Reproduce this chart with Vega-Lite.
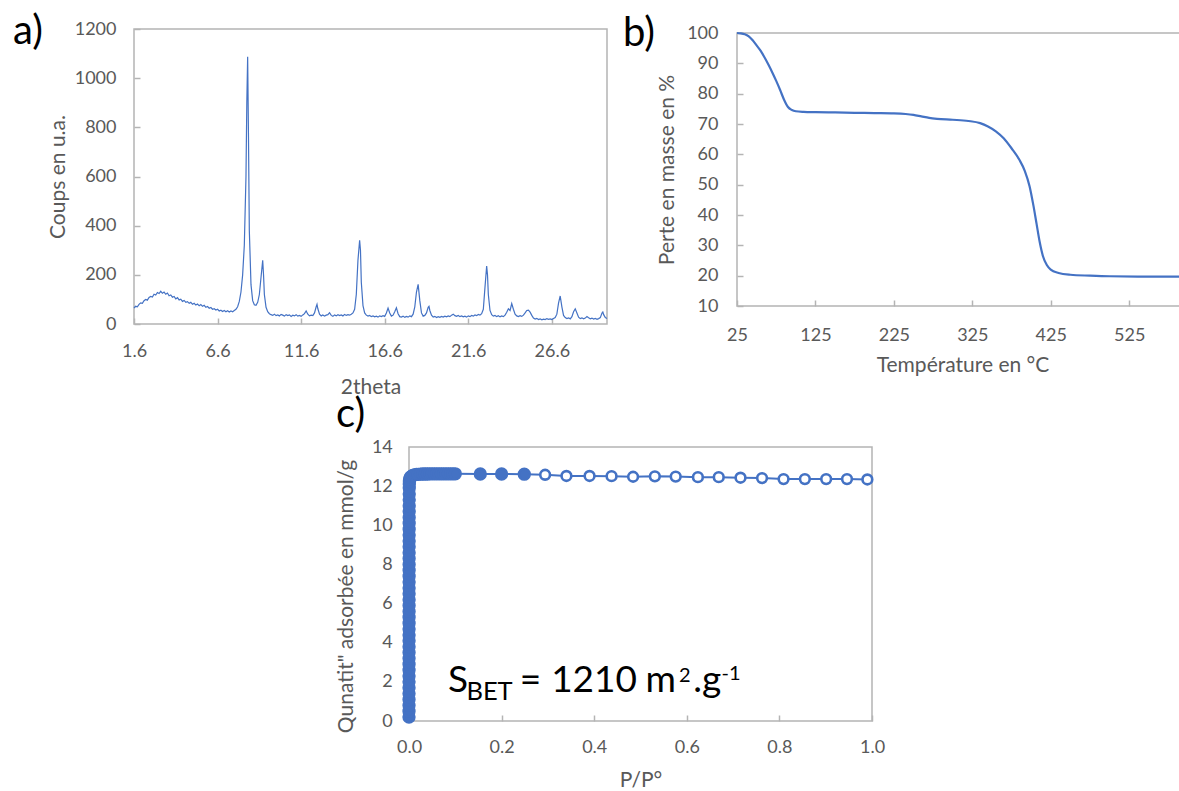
{
  "$schema": "https://vega.github.io/schema/vega-lite/v6.json",
  "background": "white",
  "padding": {"left": 12, "top": 11, "right": 0, "bottom": 0},
  "bounds": "flush",
  "spacing": 418,
  "config": {
    "font": "Lato",
    "view": {"stroke": "#b4b4b4", "strokeWidth": 1.5},
    "axis": {"grid": false, "domain": false, "tickColor": "#b4b4b4", "tickWidth": 1.5, "tickSize": -6, "labelFont": "Lato", "labelFontSize": 18, "labelColor": "#595959", "titleFont": "Lato", "titleFontSize": 21, "titleColor": "#595959", "titleFontWeight": "normal", "labelFlush": false, "labelOverlap": false},
    "title": {"font": "Lato", "fontSize": 40, "fontWeight": "normal", "color": "#000000", "anchor": "start", "baseline": "alphabetic", "frame": "group"}
  },
  "datasets": {
    "xrd": [
      {"t":1.6,"c":65},{"t":1.7,"c":72},{"t":1.8,"c":70},{"t":1.9,"c":80},{"t":2.0,"c":86},{"t":2.1,"c":84},{"t":2.2,"c":95},{"t":2.3,"c":100},{"t":2.4,"c":97},{"t":2.5,"c":108},
      {"t":2.6,"c":112},{"t":2.7,"c":110},{"t":2.8,"c":121},{"t":2.9,"c":118},{"t":3.0,"c":128},{"t":3.1,"c":124},{"t":3.2,"c":133},{"t":3.3,"c":125},{"t":3.4,"c":130},{"t":3.5,"c":121},
      {"t":3.6,"c":126},{"t":3.7,"c":115},{"t":3.8,"c":118},{"t":3.9,"c":109},{"t":4.0,"c":112},{"t":4.1,"c":102},{"t":4.2,"c":107},{"t":4.3,"c":98},{"t":4.4,"c":101},{"t":4.5,"c":92},
      {"t":4.6,"c":96},{"t":4.7,"c":88},{"t":4.8,"c":91},{"t":4.9,"c":84},{"t":5.0,"c":88},{"t":5.1,"c":80},{"t":5.2,"c":84},{"t":5.3,"c":77},{"t":5.4,"c":81},{"t":5.5,"c":74},
      {"t":5.6,"c":79},{"t":5.7,"c":72},{"t":5.8,"c":76},{"t":5.9,"c":68},{"t":6.0,"c":71},{"t":6.1,"c":64},{"t":6.2,"c":67},{"t":6.3,"c":60},{"t":6.4,"c":62},{"t":6.5,"c":57},
      {"t":6.6,"c":60},{"t":6.7,"c":53},{"t":6.8,"c":56},{"t":6.9,"c":51},{"t":7.0,"c":55},{"t":7.1,"c":50},{"t":7.2,"c":54},{"t":7.3,"c":49},{"t":7.4,"c":53},{"t":7.5,"c":50},
      {"t":7.6,"c":55},{"t":7.7,"c":60},{"t":7.8,"c":70},{"t":7.9,"c":92},{"t":8.0,"c":130},{"t":8.1,"c":200},{"t":8.2,"c":320},{"t":8.3,"c":600},{"t":8.35,"c":900},{"t":8.4,"c":1087},
      {"t":8.45,"c":760},{"t":8.5,"c":380},{"t":8.6,"c":160},{"t":8.7,"c":95},{"t":8.8,"c":78},{"t":8.9,"c":76},{"t":9.0,"c":88},{"t":9.1,"c":120},{"t":9.2,"c":190},{"t":9.3,"c":259},
      {"t":9.35,"c":200},{"t":9.4,"c":120},{"t":9.5,"c":68},{"t":9.6,"c":50},{"t":9.7,"c":42},{"t":9.8,"c":38},{"t":9.9,"c":35},{"t":10.0,"c":40},{"t":10.1,"c":34},{"t":10.2,"c":37},
      {"t":10.3,"c":33},{"t":10.4,"c":39},{"t":10.5,"c":36},{"t":10.6,"c":32},{"t":10.7,"c":38},{"t":10.8,"c":34},{"t":10.9,"c":37},{"t":11.0,"c":31},{"t":11.1,"c":36},{"t":11.2,"c":33},
      {"t":11.3,"c":38},{"t":11.4,"c":32},{"t":11.5,"c":35},{"t":11.6,"c":31},{"t":11.7,"c":37},{"t":11.8,"c":42},{"t":11.9,"c":53},{"t":12.0,"c":40},{"t":12.1,"c":33},{"t":12.2,"c":36},
      {"t":12.3,"c":34},{"t":12.4,"c":45},{"t":12.5,"c":70},{"t":12.55,"c":80},{"t":12.6,"c":62},{"t":12.7,"c":40},{"t":12.8,"c":33},{"t":12.9,"c":37},{"t":13.0,"c":32},{"t":13.1,"c":36},
      {"t":13.2,"c":38},{"t":13.3,"c":46},{"t":13.4,"c":35},{"t":13.5,"c":31},{"t":13.6,"c":37},{"t":13.7,"c":33},{"t":13.8,"c":38},{"t":13.9,"c":34},{"t":14.0,"c":37},{"t":14.1,"c":33},
      {"t":14.2,"c":39},{"t":14.3,"c":35},{"t":14.4,"c":38},{"t":14.5,"c":36},{"t":14.6,"c":40},{"t":14.7,"c":45},{"t":14.8,"c":60},{"t":14.9,"c":120},{"t":15.0,"c":260},{"t":15.1,"c":340},
      {"t":15.15,"c":300},{"t":15.2,"c":170},{"t":15.3,"c":75},{"t":15.4,"c":45},{"t":15.5,"c":36},{"t":15.6,"c":32},{"t":15.7,"c":35},{"t":15.8,"c":30},{"t":15.9,"c":33},{"t":16.0,"c":29},
      {"t":16.1,"c":32},{"t":16.2,"c":28},{"t":16.3,"c":33},{"t":16.4,"c":30},{"t":16.5,"c":34},{"t":16.6,"c":31},{"t":16.7,"c":45},{"t":16.8,"c":65},{"t":16.9,"c":45},{"t":17.0,"c":32},
      {"t":17.1,"c":36},{"t":17.2,"c":50},{"t":17.3,"c":66},{"t":17.4,"c":42},{"t":17.5,"c":30},{"t":17.6,"c":28},{"t":17.7,"c":32},{"t":17.8,"c":27},{"t":17.9,"c":31},{"t":18.0,"c":28},
      {"t":18.1,"c":33},{"t":18.2,"c":30},{"t":18.3,"c":40},{"t":18.4,"c":70},{"t":18.5,"c":130},{"t":18.6,"c":161},{"t":18.7,"c":95},{"t":18.8,"c":45},{"t":18.9,"c":32},{"t":19.0,"c":35},
      {"t":19.1,"c":45},{"t":19.2,"c":68},{"t":19.25,"c":72},{"t":19.3,"c":55},{"t":19.4,"c":36},{"t":19.5,"c":28},{"t":19.6,"c":31},{"t":19.7,"c":26},{"t":19.8,"c":30},{"t":19.9,"c":27},
      {"t":20.0,"c":31},{"t":20.1,"c":28},{"t":20.2,"c":32},{"t":20.3,"c":29},{"t":20.4,"c":33},{"t":20.5,"c":30},{"t":20.6,"c":36},{"t":20.7,"c":40},{"t":20.8,"c":34},{"t":20.9,"c":31},
      {"t":21.0,"c":35},{"t":21.1,"c":30},{"t":21.2,"c":33},{"t":21.3,"c":29},{"t":21.4,"c":32},{"t":21.5,"c":28},{"t":21.6,"c":33},{"t":21.7,"c":30},{"t":21.8,"c":35},{"t":21.9,"c":32},
      {"t":22.0,"c":37},{"t":22.1,"c":34},{"t":22.2,"c":39},{"t":22.3,"c":36},{"t":22.4,"c":42},{"t":22.5,"c":60},{"t":22.6,"c":150},{"t":22.7,"c":236},{"t":22.75,"c":200},{"t":22.8,"c":120},
      {"t":22.9,"c":55},{"t":23.0,"c":38},{"t":23.1,"c":32},{"t":23.2,"c":35},{"t":23.3,"c":30},{"t":23.4,"c":34},{"t":23.5,"c":29},{"t":23.6,"c":33},{"t":23.7,"c":30},{"t":23.8,"c":36},
      {"t":23.9,"c":48},{"t":24.0,"c":62},{"t":24.1,"c":55},{"t":24.2,"c":83},{"t":24.3,"c":60},{"t":24.4,"c":40},{"t":24.5,"c":33},{"t":24.6,"c":30},{"t":24.7,"c":34},{"t":24.8,"c":31},
      {"t":24.9,"c":36},{"t":25.0,"c":45},{"t":25.1,"c":55},{"t":25.2,"c":56},{"t":25.3,"c":48},{"t":25.4,"c":35},{"t":25.5,"c":24},{"t":25.6,"c":20},{"t":25.7,"c":23},{"t":25.8,"c":18},
      {"t":25.9,"c":21},{"t":26.0,"c":17},{"t":26.1,"c":20},{"t":26.2,"c":18},{"t":26.3,"c":22},{"t":26.4,"c":19},{"t":26.5,"c":21},{"t":26.6,"c":18},{"t":26.7,"c":22},{"t":26.8,"c":26},
      {"t":26.9,"c":40},{"t":27.0,"c":85},{"t":27.1,"c":114},{"t":27.2,"c":70},{"t":27.3,"c":35},{"t":27.4,"c":26},{"t":27.5,"c":22},{"t":27.6,"c":25},{"t":27.7,"c":21},{"t":27.8,"c":30},
      {"t":27.9,"c":50},{"t":28.0,"c":62},{"t":28.1,"c":45},{"t":28.2,"c":28},{"t":28.3,"c":22},{"t":28.4,"c":25},{"t":28.5,"c":21},{"t":28.6,"c":24},{"t":28.7,"c":30},{"t":28.8,"c":25},
      {"t":28.9,"c":21},{"t":29.0,"c":24},{"t":29.1,"c":20},{"t":29.2,"c":23},{"t":29.3,"c":19},{"t":29.4,"c":22},{"t":29.5,"c":26},{"t":29.6,"c":45},{"t":29.65,"c":49},{"t":29.7,"c":38},
      {"t":29.8,"c":26},{"t":29.9,"c":22}
    ],
    "tga": [
      {"T":25,"m":100},{"T":30,"m":99.9},{"T":35,"m":99.6},{"T":40,"m":98.9},{"T":45,"m":97.6},{"T":50,"m":95.9},{"T":55,"m":94.2},{"T":60,"m":92.0},{"T":65,"m":89.6},{"T":70,"m":87.0},
      {"T":75,"m":84.2},{"T":80,"m":81.2},{"T":85,"m":78.0},{"T":90,"m":75.6},{"T":95,"m":74.6},{"T":100,"m":74.2},{"T":110,"m":74.0},{"T":125,"m":73.9},{"T":150,"m":73.8},{"T":175,"m":73.7},
      {"T":200,"m":73.6},{"T":225,"m":73.5},{"T":240,"m":73.3},{"T":250,"m":73.0},{"T":260,"m":72.5},{"T":270,"m":72.0},{"T":280,"m":71.7},{"T":300,"m":71.4},{"T":320,"m":71.0},{"T":335,"m":70.3},
      {"T":345,"m":69.2},{"T":355,"m":67.6},{"T":365,"m":65.3},{"T":375,"m":62.0},{"T":385,"m":58.2},{"T":392,"m":54.5},{"T":398,"m":49.5},{"T":403,"m":43.0},{"T":407,"m":37.0},{"T":411,"m":31.0},
      {"T":415,"m":26.5},{"T":420,"m":23.5},{"T":425,"m":22.0},{"T":435,"m":20.9},{"T":450,"m":20.3},{"T":475,"m":20.0},{"T":500,"m":19.8},{"T":550,"m":19.7},{"T":600,"m":19.7}
    ],
    "iso": [
      {"p":0.00001,"q":0.2,"b":"adsorption"},{"p":0.00002,"q":0.5,"b":"adsorption"},{"p":0.00003,"q":0.8,"b":"adsorption"},{"p":0.00004,"q":1.1,"b":"adsorption"},{"p":0.00005,"q":1.4,"b":"adsorption"},
      {"p":0.00006,"q":1.7,"b":"adsorption"},{"p":0.00007,"q":2.0,"b":"adsorption"},{"p":0.00008,"q":2.3,"b":"adsorption"},{"p":0.00009,"q":2.6,"b":"adsorption"},{"p":0.0001,"q":2.9,"b":"adsorption"},
      {"p":0.00011,"q":3.2,"b":"adsorption"},{"p":0.00012,"q":3.5,"b":"adsorption"},{"p":0.00013,"q":3.8,"b":"adsorption"},{"p":0.00014,"q":4.1,"b":"adsorption"},{"p":0.00015,"q":4.4,"b":"adsorption"},
      {"p":0.00016,"q":4.7,"b":"adsorption"},{"p":0.00017,"q":5.0,"b":"adsorption"},{"p":0.00018,"q":5.3,"b":"adsorption"},{"p":0.00019,"q":5.6,"b":"adsorption"},{"p":0.0002,"q":5.9,"b":"adsorption"},
      {"p":0.00021,"q":6.2,"b":"adsorption"},{"p":0.00022,"q":6.5,"b":"adsorption"},{"p":0.00023,"q":6.8,"b":"adsorption"},{"p":0.00024,"q":7.1,"b":"adsorption"},{"p":0.00025,"q":7.4,"b":"adsorption"},
      {"p":0.00026,"q":7.7,"b":"adsorption"},{"p":0.00027,"q":8.0,"b":"adsorption"},{"p":0.00028,"q":8.3,"b":"adsorption"},{"p":0.00029,"q":8.6,"b":"adsorption"},{"p":0.0003,"q":8.9,"b":"adsorption"},
      {"p":0.00032,"q":9.2,"b":"adsorption"},{"p":0.00034,"q":9.5,"b":"adsorption"},{"p":0.00036,"q":9.8,"b":"adsorption"},{"p":0.00038,"q":10.1,"b":"adsorption"},{"p":0.0004,"q":10.4,"b":"adsorption"},
      {"p":0.00043,"q":10.7,"b":"adsorption"},{"p":0.00046,"q":11.0,"b":"adsorption"},{"p":0.0005,"q":11.3,"b":"adsorption"},{"p":0.00055,"q":11.6,"b":"adsorption"},{"p":0.0006,"q":11.9,"b":"adsorption"},
      {"p":0.0007,"q":12.1,"b":"adsorption"},{"p":0.0009,"q":12.25,"b":"adsorption"},{"p":0.0015,"q":12.35,"b":"adsorption"},{"p":0.003,"q":12.45,"b":"adsorption"},{"p":0.005,"q":12.5,"b":"adsorption"},
      {"p":0.008,"q":12.55,"b":"adsorption"},{"p":0.012,"q":12.58,"b":"adsorption"},{"p":0.016,"q":12.6,"b":"adsorption"},{"p":0.02,"q":12.6,"b":"adsorption"},{"p":0.025,"q":12.61,"b":"adsorption"},
      {"p":0.03,"q":12.62,"b":"adsorption"},{"p":0.035,"q":12.62,"b":"adsorption"},{"p":0.04,"q":12.62,"b":"adsorption"},{"p":0.045,"q":12.63,"b":"adsorption"},{"p":0.05,"q":12.63,"b":"adsorption"},
      {"p":0.055,"q":12.63,"b":"adsorption"},{"p":0.06,"q":12.63,"b":"adsorption"},{"p":0.065,"q":12.63,"b":"adsorption"},{"p":0.07,"q":12.63,"b":"adsorption"},{"p":0.075,"q":12.63,"b":"adsorption"},
      {"p":0.08,"q":12.63,"b":"adsorption"},{"p":0.085,"q":12.63,"b":"adsorption"},{"p":0.09,"q":12.63,"b":"adsorption"},{"p":0.095,"q":12.63,"b":"adsorption"},{"p":0.1,"q":12.63,"b":"adsorption"},
      {"p":0.154,"q":12.62,"b":"adsorption"},{"p":0.2,"q":12.62,"b":"adsorption"},{"p":0.249,"q":12.61,"b":"adsorption"},
      {"p":0.294,"q":12.58,"b":"désorption"},{"p":0.34,"q":12.52,"b":"désorption"},{"p":0.39,"q":12.52,"b":"désorption"},{"p":0.4375,"q":12.51,"b":"désorption"},{"p":0.484,"q":12.48,"b":"désorption"},
      {"p":0.531,"q":12.5,"b":"désorption"},{"p":0.576,"q":12.49,"b":"désorption"},{"p":0.624,"q":12.46,"b":"désorption"},{"p":0.669,"q":12.46,"b":"désorption"},{"p":0.716,"q":12.43,"b":"désorption"},
      {"p":0.7625,"q":12.41,"b":"désorption"},{"p":0.809,"q":12.36,"b":"désorption"},{"p":0.855,"q":12.36,"b":"désorption"},{"p":0.901,"q":12.36,"b":"désorption"},{"p":0.946,"q":12.36,"b":"désorption"},
      {"p":0.99,"q":12.34,"b":"désorption"}
    ]
  },
  "vconcat": [
    {
      "bounds": "flush",
      "spacing": 130,
      "hconcat": [
        {
          "width": 473,
          "height": 295,
          "title": {"text": "a)", "dx": -121, "dy": 36},
          "data": {"name": "xrd"},
          "mark": {"type": "line", "color": "#4472C4", "strokeWidth": 1.2},
          "encoding": {
            "x": {"field": "t", "type": "quantitative", "scale": {"domain": [1.6, 29.9], "nice": false, "zero": false},
                  "axis": {"values": [1.6, 6.6, 11.6, 16.6, 21.6, 26.6], "format": ".1f", "title": "2theta", "labelPadding": 24, "titlePadding": 16, "labelOverlap": false}},
            "y": {"field": "c", "type": "quantitative", "scale": {"domain": [0, 1200], "nice": false},
                  "axis": {"values": [0, 200, 400, 600, 800, 1000, 1200], "format": "d", "title": "Coups en u.a.", "labelPadding": 24, "titlePadding": 6, "labelOverlap": false}}
          }
        },
        {
          "bounds": "flush",
          "spacing": 3,
          "vconcat": [
            {"width": 451, "height": 1, "view": {"stroke": null}, "data": {"values": []}, "mark": {"type": "point", "opacity": 0}, "encoding": {}},
            {
              "width": 451,
              "height": 273,
              "title": {"text": "b)", "dx": -114, "dy": 34},
              "data": {"name": "tga"},
              "mark": {"type": "line", "color": "#4472C4", "strokeWidth": 2.2, "interpolate": "monotone"},
              "encoding": {
                "x": {"field": "T", "type": "quantitative", "scale": {"domain": [25, 600], "nice": false, "zero": false},
                      "axis": {"values": [25, 125, 225, 325, 425, 525], "title": "Température en °C", "labelPadding": 26, "titlePadding": 10, "labelOverlap": false}},
                "y": {"field": "m", "type": "quantitative", "scale": {"domain": [10, 100], "nice": false, "zero": false},
                      "axis": {"values": [10, 20, 30, 40, 50, 60, 70, 80, 90, 100], "title": "Perte en masse en %", "labelPadding": 25, "titlePadding": 9, "labelOverlap": false}}
              }
            }
          ]
        }
      ]
    },
    {
      "bounds": "flush",
      "spacing": 0,
      "hconcat": [
        {"width": 275, "height": 1, "view": {"stroke": null}, "data": {"values": []}, "mark": {"type": "point", "opacity": 0}, "encoding": {}},
        {
          "width": 463,
          "height": 274,
          "title": {"text": "c)", "dx": -73, "dy": 1},
          "encoding": {
            "x": {"field": "p", "type": "quantitative", "scale": {"domain": [0, 1], "nice": false},
                  "axis": {"values": [0, 0.2, 0.4, 0.6, 0.8, 1.0], "format": ".1f", "title": "P/P°", "labelPadding": 23.5, "titlePadding": 13, "labelOverlap": false}},
            "y": {"field": "q", "type": "quantitative", "scale": {"domain": [0, 14], "nice": false},
                  "axis": {"values": [0, 2, 4, 6, 8, 10, 12, 14], "format": "d", "title": "Qunatit\" adsorbée en mmol/g", "ticks": false, "labelPadding": 16.7, "titlePadding": 15, "titleY": 149, "labelOverlap": false, "labelSeparation": 0}}
          },
          "layer": [
            {
              "data": {"name": "iso"},
              "mark": {"type": "line", "color": "#4472C4", "strokeWidth": 2}
            },
            {
              "data": {"name": "iso"},
              "mark": {"type": "point", "shape": "circle", "opacity": 1, "strokeWidth": 2.6},
              "encoding": {
                "fill": {"field": "b", "type": "nominal", "scale": {"domain": ["adsorption", "désorption"], "range": ["#4472C4", "#ffffff"]}, "legend": null},
                "stroke": {"value": "#4472C4"},
                "size": {"field": "b", "type": "nominal", "scale": {"domain": ["adsorption", "désorption"], "range": [115, 95]}, "legend": null}
              }
            },
            {
              "data": {"values": [{"p": 0.0845, "q": 1.5, "s": "S"}, {"p": 0.239, "q": 1.5, "s": "="}, {"p": 0.307, "q": 1.5, "s": "1210"}, {"p": 0.511, "q": 1.5, "s": "m"}, {"p": 0.614, "q": 1.5, "s": ".g"}]},
              "mark": {"type": "text", "font": "Lato", "fontSize": 37, "color": "#000000", "align": "left", "baseline": "alphabetic"},
              "encoding": {"text": {"field": "s"}}
            },
            {
              "data": {"values": [{"p": 0.124, "q": 1.07, "s": "BET"}]},
              "mark": {"type": "text", "font": "Lato", "fontSize": 25.5, "color": "#000000", "align": "left", "baseline": "alphabetic"},
              "encoding": {"text": {"field": "s"}}
            },
            {
              "data": {"values": [{"p": 0.583, "q": 2.0, "s": "2"}, {"p": 0.675, "q": 2.1, "s": "-1"}]},
              "mark": {"type": "text", "font": "Lato", "fontSize": 20, "color": "#000000", "align": "left", "baseline": "alphabetic"},
              "encoding": {"text": {"field": "s"}}
            }
          ]
        }
      ]
    }
  ]
}
